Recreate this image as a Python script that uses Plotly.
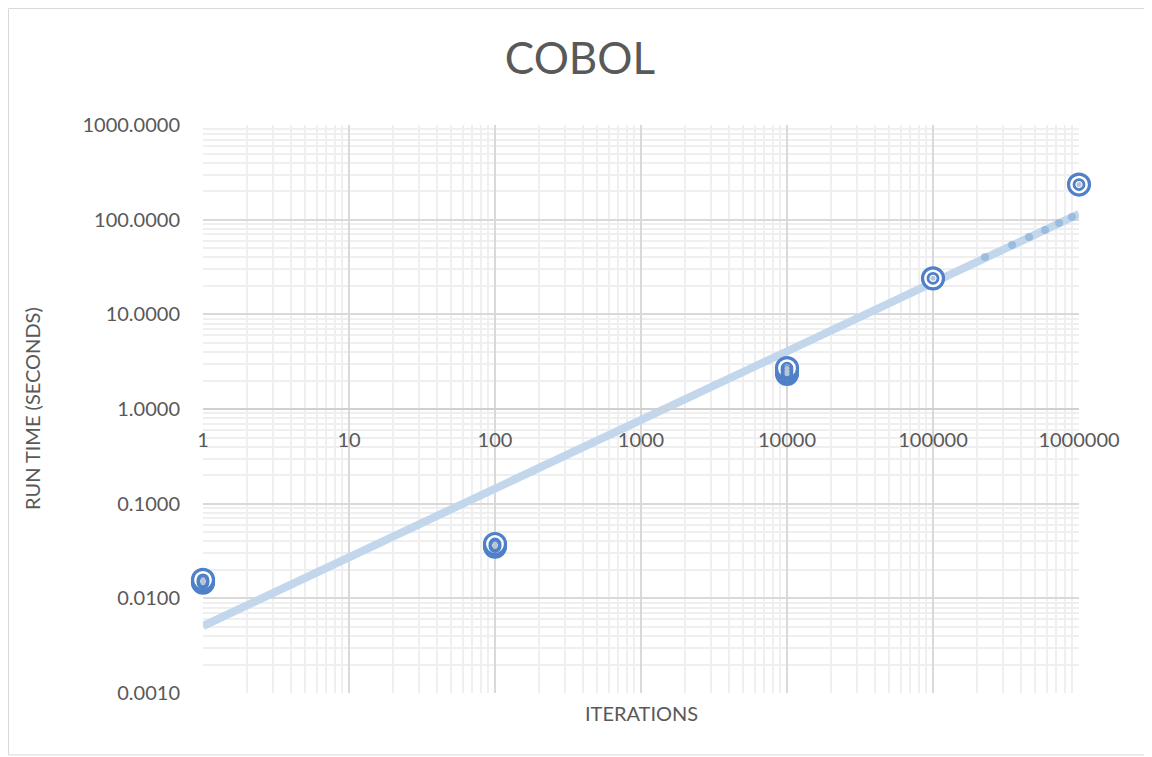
import plotly.graph_objects as go

# Measured run times (seconds) for each iteration count
iterations = [1, 1, 1, 100, 100, 100, 10000, 10000, 10000, 100000, 1000000]
run_time = [0.0146, 0.0151, 0.0157, 0.0352, 0.0362, 0.0375, 2.35, 2.5, 2.7, 24.0, 235.0]

# Power trendline (end points)
trend_x = [1, 1000000]
trend_y = [0.0051, 115.0]

# Faint dotted markers sitting on the trendline near the right end
dot_x = [227000, 348000, 455000, 585000, 730000, 895000]
dot_y = [40.4, 54.0, 65.6, 77.8, 92.3, 106.7]

x_ticks = [1, 10, 100, 1000, 10000, 100000, 1000000]
x_tick_text = ["1", "10", "100", "1000", "10000", "100000", "1000000"]
y_ticks = [0.001, 0.01, 0.1, 1, 10, 100, 1000]

TEXT = "#595959"
BLUE = "#4f80c8"
FONT = "Lato, 'Open Sans', sans-serif"

fig = go.Figure()

fig.add_trace(go.Scatter(
    x=trend_x, y=trend_y, mode="lines",
    line={"color": "#c3d7ec", "width": 8},
    hoverinfo="skip", showlegend=False,
))
fig.add_trace(go.Scatter(
    x=dot_x, y=dot_y, mode="markers",
    marker={"color": "rgba(120,165,215,0.55)", "size": 8},
    hoverinfo="skip", showlegend=False,
))
# Excel-like ring marker: outer ring, inner ring, centre dot
fig.add_trace(go.Scatter(
    x=iterations, y=run_time, mode="markers", cliponaxis=False,
    marker={"symbol": "circle", "size": 21, "color": "white",
            "line": {"color": BLUE, "width": 3.2}},
    showlegend=False,
))
fig.add_trace(go.Scatter(
    x=iterations, y=run_time, mode="markers", cliponaxis=False,
    marker={"symbol": "circle-open", "size": 10, "color": BLUE,
            "line": {"color": BLUE, "width": 2.8}},
    hoverinfo="skip", showlegend=False,
))
fig.add_trace(go.Scatter(
    x=iterations, y=run_time, mode="markers", cliponaxis=False,
    marker={"symbol": "circle", "size": 5, "color": "#b9c4d4"},
    hoverinfo="skip", showlegend=False,
))

fig.update_layout(
    width=1144,
    height=749,
    margin={"l": 195, "r": 73, "t": 117, "b": 64},
    paper_bgcolor="white",
    plot_bgcolor="white",
    font={"family": FONT, "color": TEXT, "size": 20},
    title={"text": "COBOL", "x": 0.5, "xanchor": "center", "y": 0.933,
           "yanchor": "middle", "font": {"size": 44, "color": TEXT, "family": FONT}},
    xaxis={
        "type": "log", "range": [0, 6],
        "anchor": "free", "position": 0.5,
        "showline": True, "linecolor": "#d0d0d0", "linewidth": 1.5,
        "tickvals": x_ticks, "ticktext": x_tick_text,
        "ticks": "", "ticklabelstandoff": 13,
        "showgrid": True, "gridcolor": "#d9d9d9", "gridwidth": 1.5,
        "minor": {"showgrid": True, "gridcolor": "#efefef", "gridwidth": 1.5, "dtick": "D1"},
        "zeroline": False,
    },
    yaxis={
        "type": "log", "range": [-3, 3],
        "tickvals": y_ticks, "tickformat": ".4f",
        "ticks": "", "ticklabelstandoff": 22,
        "showline": False,
        "showgrid": True, "gridcolor": "#d9d9d9", "gridwidth": 1.5,
        "minor": {"showgrid": True, "gridcolor": "#efefef", "gridwidth": 1.5, "dtick": "D1"},
        "zeroline": False,
    },
    annotations=[
        {"text": "ITERATIONS", "xref": "paper", "yref": "paper", "x": 0.5, "y": -0.0352,
         "xanchor": "center", "yanchor": "middle", "showarrow": False,
         "font": {"size": 20, "color": TEXT}},
        {"text": "RUN TIME (SECONDS)", "xref": "paper", "yref": "paper", "x": -0.1952, "y": 0.5,
         "xanchor": "center", "yanchor": "middle", "textangle": -90, "showarrow": False,
         "font": {"size": 20, "color": TEXT}},
    ],
    shapes=[
        {"type": "rect", "xref": "paper", "yref": "paper",
         "x0": -0.2220, "x1": 1.0811, "y0": -0.109, "y1": 1.2051,
         "line": {"color": "#d9d9d9", "width": 1}, "layer": "below"},
    ],
)

fig.write_html("out.html")
